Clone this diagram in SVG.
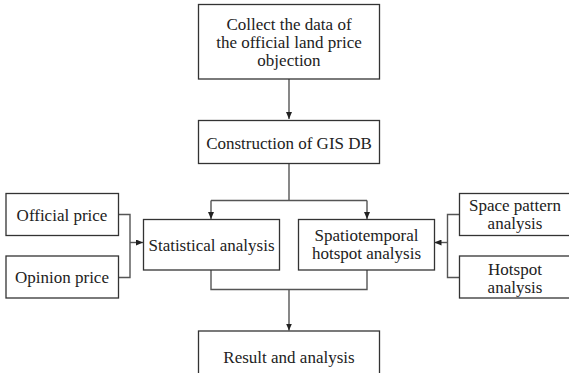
<svg xmlns="http://www.w3.org/2000/svg" width="569" height="373" viewBox="0 0 569 373">
<defs>
<marker id="arr" markerWidth="7" markerHeight="6" refX="7" refY="3" orient="auto" markerUnits="userSpaceOnUse">
<path d="M0,0 L7,3 L0,6 Z" fill="#222"/>
</marker>
<style>
.box{fill:#fff;stroke:#333;stroke-width:1.3}
.t{font-family:"Liberation Serif","Times New Roman",serif;font-size:17px;fill:#222;text-anchor:middle}
.c{fill:none;stroke:#555;stroke-width:1.4}
</style>
</defs>
<rect width="569" height="373" fill="#fff"/>
<g id="connectors">
<path class="c" d="M289,79 V119" marker-end="url(#arr)"/>
<path class="c" d="M289,163.5 V200.5"/>
<path class="c" d="M211,200.5 H367"/>
<path class="c" d="M211,200.5 V219" marker-end="url(#arr)"/>
<path class="c" d="M367,200.5 V219" marker-end="url(#arr)"/>
<path class="c" d="M118.5,214.5 H130 V277.5 H118.5"/>
<path class="c" d="M130,242.5 H143" marker-end="url(#arr)"/>
<path class="c" d="M459.5,214.5 H447.5 V277.5 H459.5"/>
<path class="c" d="M447.5,242.5 H434.5" marker-end="url(#arr)"/>
<path class="c" d="M211,270 V289.5 H367 V270"/>
<path class="c" d="M289,289.5 V330.5" marker-end="url(#arr)"/>
</g>
<g id="collect">
<rect class="box" x="198.5" y="4.5" width="181" height="74.5"/>
<text class="t" x="289" y="30">Collect the data of</text>
<text class="t" x="289" y="48">the official land price</text>
<text class="t" x="289" y="66">objection</text>
</g>
<g id="gisdb">
<rect class="box" x="198.5" y="120.5" width="181" height="43"/>
<text class="t" x="289" y="148.5">Construction of GIS DB</text>
</g>
<g id="official">
<rect class="box" x="6" y="193.5" width="112.5" height="42"/>
<text class="t" x="62" y="220.5">Official price</text>
</g>
<g id="opinion">
<rect class="box" x="6" y="256" width="112.5" height="42"/>
<text class="t" x="62" y="283">Opinion price</text>
</g>
<g id="statistical">
<rect class="box" x="143.5" y="219.5" width="136" height="50.5"/>
<text class="t" x="211.5" y="250.5">Statistical analysis</text>
</g>
<g id="spatiotemporal">
<rect class="box" x="298.5" y="219.5" width="136" height="50.5"/>
<text class="t" x="366.5" y="241">Spatiotemporal</text>
<text class="t" x="366.5" y="259">hotspot analysis</text>
</g>
<g id="spacepattern">
<rect class="box" x="459.5" y="193.5" width="115" height="42"/>
<text class="t" x="515" y="211">Space pattern</text>
<text class="t" x="515" y="229">analysis</text>
</g>
<g id="hotspot">
<rect class="box" x="459.5" y="256" width="115" height="42"/>
<text class="t" x="515" y="275">Hotspot</text>
<text class="t" x="515" y="293">analysis</text>
</g>
<g id="result">
<rect class="box" x="198.5" y="331" width="181" height="50"/>
<text class="t" x="289" y="363">Result and analysis</text>
</g>
</svg>
